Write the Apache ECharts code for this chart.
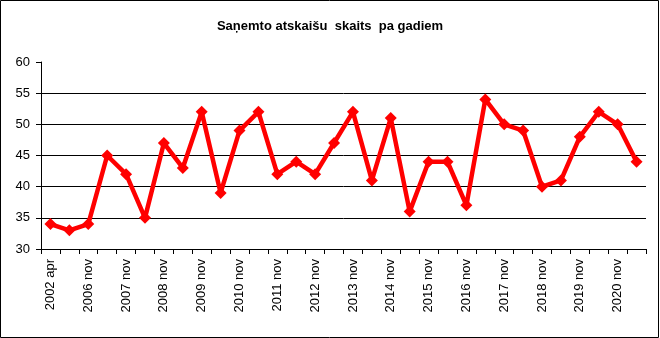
<!DOCTYPE html>
<html>
<head>
<meta charset="utf-8">
<script src="https://cdn.jsdelivr.net/npm/echarts@6/dist/echarts.min.js"></script>
<style>
  html, body { margin: 0; padding: 0; background: #fff; }
  #chart { width: 660px; height: 338px; }
</style>
</head>
<body>
<div id="chart"></div>
<script>
// Reporting periods (only every second one gets a visible label)
const categories = [
  '2002 apr', '2006 apr', '2006 nov', '2007 apr', '2007 nov', '2008 apr', '2008 nov',
  '2009 apr', '2009 nov', '2010 apr', '2010 nov', '2011 apr', '2011 nov', '2012 apr',
  '2012 nov', '2013 apr', '2013 nov', '2014 apr', '2014 nov', '2015 apr', '2015 nov',
  '2016 apr', '2016 nov', '2017 apr', '2017 nov', '2018 apr', '2018 nov', '2019 apr',
  '2019 nov', '2020 apr', '2020 nov', '2021 apr'
];

// Number of received reports per period
const reportCounts = [
  34, 33, 34, 45, 42, 35, 47, 43, 52, 39, 49, 52, 42, 44, 42, 47,
  52, 41, 51, 36, 44, 44, 37, 54, 50, 49, 40, 41, 48, 52, 50, 44
];

const titleText = 'Saņemto atskaišu  skaits  pa gadiem';
const yMin = 30, yMax = 60, yStep = 5;

const chart = echarts.init(document.getElementById('chart'), null, { renderer: 'canvas' });

chart.setOption({
  animation: false,
  backgroundColor: '#ffffff',
  title: {
    text: titleText,
    left: 'center',
    top: 15,
    textStyle: {
      fontFamily: '"Liberation Sans", Arial, sans-serif',
      fontWeight: 'bold',
      fontSize: 13,
      color: '#000'
    }
  },
  graphic: [{
    type: 'rect',
    shape: { x: 0.5, y: 0.5, width: 658, height: 337 },
    style: { fill: 'none', stroke: '#000', lineWidth: 1 },
    silent: true,
    z: 100
  }],
  grid: { left: 41, right: 14, top: 62, bottom: 89, containLabel: false },
  xAxis: {
    type: 'category',
    data: categories,
    boundaryGap: true,
    axisLine: { show: true, lineStyle: { color: '#000', width: 1 } },
    axisTick: { show: true, interval: 0, length: 5, lineStyle: { color: '#000' } },
    axisLabel: {
      interval: 1,
      rotate: 90,
      margin: 10,
      color: '#000',
      fontFamily: '"Liberation Sans", Arial, sans-serif',
      fontSize: 13
    },
    splitLine: { show: false }
  },
  yAxis: {
    type: 'value',
    min: yMin,
    max: yMax,
    interval: yStep,
    axisLine: { show: true, lineStyle: { color: '#000', width: 1 } },
    axisTick: { show: true, length: 5, lineStyle: { color: '#000' } },
    axisLabel: {
      margin: 11,
      color: '#000',
      fontFamily: '"Liberation Sans", Arial, sans-serif',
      fontSize: 13
    },
    splitLine: {
      show: true,
      showMinLine: false,
      showMaxLine: false,
      lineStyle: { color: '#000', width: 1 }
    }
  },
  series: [{
    type: 'line',
    data: reportCounts,
    symbol: 'diamond',
    symbolSize: 12,
    lineStyle: { color: '#ff0000', width: 4.5 },
    itemStyle: { color: '#ff0000' },
    z: 10
  }]
});
</script>
</body>
</html>
